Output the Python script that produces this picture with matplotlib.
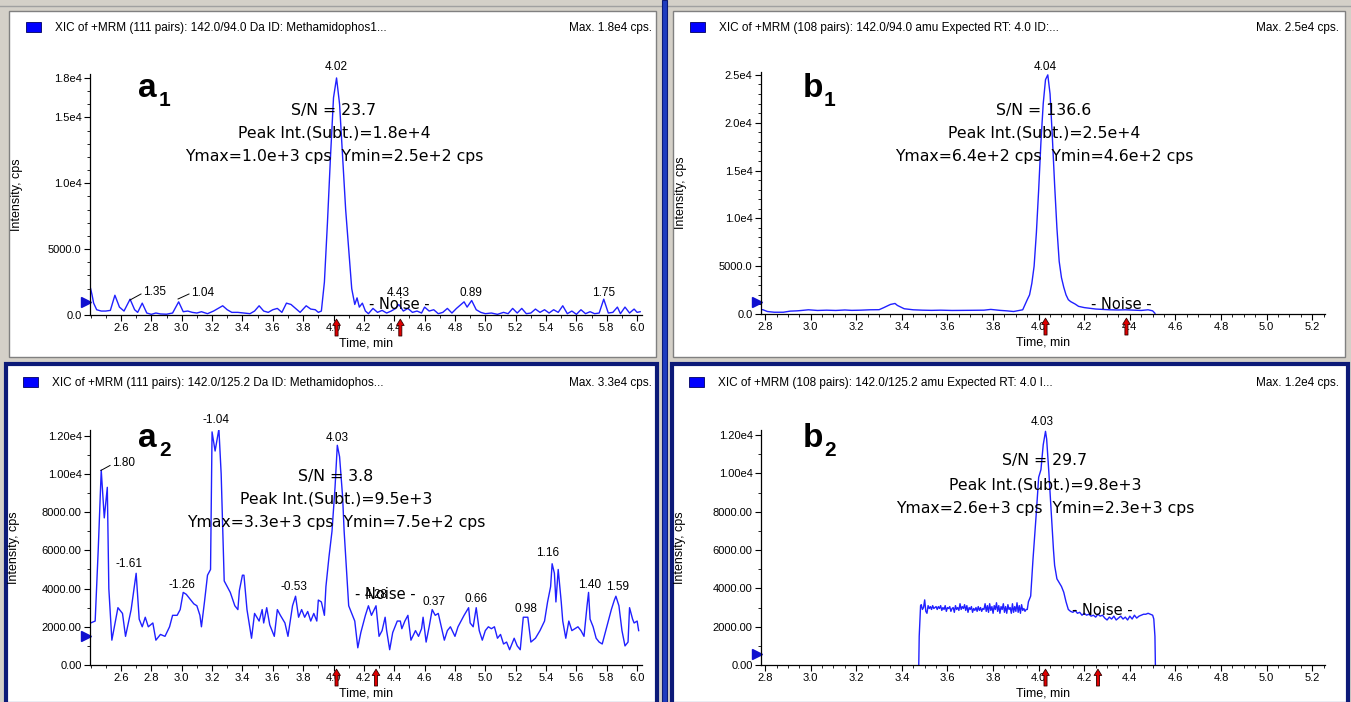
import matplotlib
matplotlib.use("Agg")
import matplotlib.pyplot as plt
from matplotlib.patches import Rectangle
from matplotlib.lines import Line2D
from matplotlib.ticker import FixedLocator, MultipleLocator
from matplotlib.transforms import blended_transform_factory

W, H = 1351, 702

# ---------------- data ----------------
a1_t = [2.40, 2.41, 2.42, 2.44, 2.47, 2.50, 2.53, 2.56, 2.59, 2.62, 2.66, 2.69, 2.71, 2.74, 2.77,
        2.80, 2.83, 2.86, 2.90, 2.94, 2.98, 3.01, 3.04, 3.07, 3.10, 3.13, 3.17, 3.21, 3.24, 3.27,
        3.30, 3.33, 3.37, 3.41, 3.45, 3.48, 3.51, 3.54, 3.57, 3.60, 3.63, 3.66, 3.69, 3.72, 3.75,
        3.78, 3.82, 3.85, 3.88, 3.90, 3.92, 3.94, 3.96, 3.98, 4.00, 4.02, 4.04, 4.06, 4.08, 4.10,
        4.12, 4.14, 4.155, 4.17, 4.19, 4.21, 4.23, 4.26, 4.29, 4.32, 4.35, 4.38, 4.41, 4.43, 4.46,
        4.49, 4.52, 4.55, 4.58, 4.60, 4.63, 4.66, 4.69, 4.72, 4.75, 4.78, 4.81, 4.84, 4.86, 4.88,
        4.91, 4.94, 4.97, 5.00, 5.04, 5.08, 5.12, 5.15, 5.18, 5.21, 5.24, 5.27, 5.30, 5.33, 5.36,
        5.39, 5.42, 5.45, 5.48, 5.51, 5.54, 5.57, 5.60, 5.63, 5.66, 5.69, 5.72, 5.75, 5.78, 5.81,
        5.84, 5.87, 5.89, 5.92, 5.95, 5.98, 6.00, 6.02]
a1_v = [2000, 1500, 900, 400, 300, 300, 350, 1500, 600, 300, 1200, 400, 200, 900, 150,
        50, 150, 80, 60, 150, 1000, 250, 300, 200, 150, 250, 100, 300, 500, 700,
        400, 200, 200, 150, 100, 300, 700, 300, 200, 400, 500, 200, 900, 800, 500,
        200, 700, 450, 400, 200, 300, 2500, 7000, 12000, 16500, 18000, 16000, 12000, 8000, 5000,
        2000, 800, 1300, 600, 900, 300, 100, 500, 200, 350, 150, 300, 500, 800, 300,
        500, 200, 300, 150, 600, 300, 400, 100, 200, 500, 150, 500, 800, 1000, 600,
        1100, 400, 200, 100, 150, 50, 200, 100, 500, 150, 500, 100, 150, 450, 200,
        400, 150, 400, 200, 700, 100, 300, 50, 400, 100, 250, 100, 150, 1200, 150,
        200, 600, 100, 600, 150, 450, 200, 250]

a2_t = [2.40, 2.43, 2.45, 2.47, 2.49, 2.51, 2.52, 2.54, 2.58, 2.61, 2.63, 2.667, 2.70, 2.72, 2.74,
        2.76, 2.78, 2.81, 2.83, 2.86, 2.89, 2.92, 2.94, 2.97, 2.99, 3.01, 3.03, 3.06, 3.08, 3.10,
        3.12, 3.13, 3.15, 3.17, 3.19, 3.20, 3.22, 3.245, 3.26, 3.28, 3.30, 3.32, 3.35, 3.37, 3.38,
        3.40, 3.41, 3.43, 3.46, 3.48, 3.51, 3.53, 3.54, 3.56, 3.58, 3.61, 3.63, 3.65, 3.68, 3.70,
        3.73, 3.75, 3.77, 3.79, 3.81, 3.83, 3.85, 3.87, 3.89, 3.90, 3.92, 3.94, 3.95, 3.97, 3.99,
        4.01, 4.025, 4.04, 4.06, 4.07, 4.09, 4.10, 4.11, 4.14, 4.16, 4.18, 4.21, 4.23, 4.25, 4.28,
        4.30, 4.32, 4.34, 4.35, 4.37, 4.39, 4.42, 4.44, 4.45, 4.47, 4.49, 4.51, 4.54, 4.56, 4.58,
        4.59, 4.61, 4.63, 4.65, 4.67, 4.69, 4.71, 4.73, 4.75, 4.77, 4.80, 4.82, 4.84, 4.86, 4.89,
        4.90, 4.92, 4.94, 4.96, 4.98, 5.00, 5.02, 5.04, 5.06, 5.08, 5.10, 5.12, 5.14, 5.16, 5.18,
        5.19, 5.21, 5.23, 5.25, 5.28, 5.30, 5.33, 5.36, 5.39, 5.41, 5.43, 5.44, 5.455, 5.465, 5.48,
        5.50, 5.51, 5.53, 5.55, 5.57, 5.59, 5.61, 5.63, 5.65, 5.67, 5.68, 5.69, 5.71, 5.73, 5.75,
        5.77, 5.80, 5.83, 5.85, 5.86, 5.88, 5.90, 5.92, 5.94, 5.95, 5.97, 5.98, 6.00, 6.01]
a2_v = [2200, 2300, 6000, 10200, 7700, 9300, 4000, 1300, 3000, 2700, 1500, 2900, 4800, 2400, 2000,
        2500, 2000, 2200, 1300, 1600, 1500, 2000, 2600, 2600, 2900, 3800, 3700, 3400, 3200, 3100,
        2600, 2000, 3300, 4700, 5000, 12200, 11200, 12350, 10000, 4400, 4100, 3800, 3100, 2900, 3900,
        4700, 4700, 2900, 1400, 2700, 2300, 2900, 2200, 3000, 2100, 1500, 2900, 2600, 2200, 1500,
        3100, 3600, 2500, 2900, 2500, 2800, 2300, 2700, 2300, 3400, 3300, 2600, 4100, 5650, 7000,
        9300, 11500, 10900, 8800, 7000, 4400, 3100, 2900, 2300, 900, 1700, 2600, 3100, 2600, 3100,
        1500, 1800, 2500, 1800, 800, 1700, 2300, 2300, 1900, 2300, 2600, 1300, 1800, 1500, 1900,
        2500, 1200, 2000, 2900, 2600, 2700, 2000, 1300, 1800, 2000, 1500, 2000, 2300, 2600, 3000,
        2200, 2000, 3000, 1800, 1300, 1800, 2000, 1900, 2000, 1400, 1600, 1100, 1200, 800, 1200,
        1400, 1000, 800, 2500, 2500, 1200, 1400, 1800, 2300, 3300, 4100, 5300, 4800, 3300, 5000,
        3300, 2300, 1400, 2300, 1800, 1900, 2000, 1800, 1500, 3100, 3800, 2400, 2000, 1400, 1200,
        1100, 2000, 2900, 3400, 3600, 3100, 1800, 1000, 1200, 3000, 2400, 2200, 2300, 1800]

b1_t = [2.785, 2.79, 2.81, 2.84, 2.88, 2.91, 2.94, 2.96, 2.99, 3.03, 3.07, 3.11, 3.15, 3.18, 3.22,
        3.26, 3.30, 3.32, 3.35, 3.37, 3.38, 3.41, 3.45, 3.49, 3.53, 3.57, 3.62, 3.67, 3.72, 3.76,
        3.79, 3.83, 3.86, 3.89, 3.93, 3.95, 3.96, 3.97, 3.98, 3.99, 4.00, 4.01, 4.02, 4.03, 4.04,
        4.05, 4.06, 4.07, 4.08, 4.09, 4.10, 4.11, 4.12, 4.13, 4.14, 4.16, 4.175, 4.20, 4.25, 4.31,
        4.35, 4.38, 4.42, 4.45, 4.48, 4.50, 4.51]
b1_v = [450, 450, 260, 185, 185, 300, 330, 370, 440, 370, 400, 370, 420, 380, 400,
        440, 450, 660, 1000, 1100, 900, 550, 440, 400, 380, 400, 370, 380, 390, 400,
        480, 380, 330, 260, 440, 1500, 2000, 3200, 5000, 8500, 13000, 18000, 22000, 24500, 25000,
        23000, 18500, 13500, 9000, 5500, 3800, 2800, 2000, 1500, 1300, 1040, 800, 670, 520, 440,
        420, 440, 400, 370, 440, 330, 70]

b2_t = [3.474, 3.476, 3.482, 3.485, 3.49, 3.495, 3.50, 3.505, 3.51, 3.515, 3.52, 3.525, 3.53, 3.535,
        3.54, 3.55, 3.555, 3.56, 3.565, 3.57, 3.575, 3.58, 3.585, 3.59, 3.595, 3.60, 3.605, 3.61,
        3.615, 3.62, 3.625, 3.63, 3.635, 3.64, 3.645, 3.65, 3.655, 3.66, 3.665, 3.67, 3.675, 3.68,
        3.685, 3.69, 3.695, 3.70, 3.705, 3.71, 3.715, 3.72, 3.725, 3.73, 3.735, 3.74, 3.745, 3.75,
        3.755, 3.76, 3.765, 3.77, 3.775, 3.78, 3.785, 3.79, 3.795, 3.80, 3.805, 3.81, 3.815, 3.82,
        3.825, 3.83, 3.835, 3.84, 3.845, 3.85, 3.855, 3.86, 3.865, 3.87, 3.875, 3.88, 3.885, 3.89,
        3.895, 3.90, 3.905, 3.91, 3.915, 3.92, 3.925, 3.93, 3.935, 3.94, 3.945, 3.95, 3.955, 3.965,
        3.975, 3.99, 4.00, 4.01, 4.02, 4.03, 4.035, 4.045, 4.055, 4.065, 4.07, 4.08, 4.09, 4.10,
        4.11, 4.12, 4.13, 4.14, 4.15, 4.16, 4.17, 4.18, 4.19, 4.20, 4.21, 4.22, 4.23, 4.24, 4.25,
        4.26, 4.27, 4.28, 4.29, 4.30, 4.31, 4.32, 4.33, 4.34, 4.35, 4.36, 4.37, 4.38, 4.39, 4.40,
        4.41, 4.42, 4.43, 4.44, 4.45, 4.46, 4.47, 4.48, 4.49, 4.50, 4.505, 4.51, 4.512]
b2_v = [0, 1500, 3100, 3150, 2900, 3000, 3400, 2800, 2700, 3100, 2950, 3050, 2900, 3100,
        2950, 3050, 2900, 3050, 2950, 3100, 2850, 3000, 2900, 3100, 2800, 3000, 2950, 3050,
        2800, 2950, 3000, 2750, 3100, 2900, 3000, 2850, 3200, 2900, 3050, 2950, 3150, 2850,
        3100, 2750, 3000, 2900, 3050, 2750, 2950, 2850, 3000, 2800, 3050, 2850, 3000, 2800,
        2950, 2900, 3200, 2800, 3100, 2750, 3200, 2850, 3050, 2700, 3100, 2900, 3250, 2800,
        3100, 2700, 3050, 2900, 3200, 2750, 3050, 2700, 3150, 2900, 3000, 2700, 3200, 2750,
        3050, 2800, 3250, 2750, 3100, 2700, 3150, 2850, 2950, 2800, 2900, 2900, 3300, 3600,
        5500, 8000, 9800, 10200, 11500, 12200, 11800, 10000, 8000, 6000, 5200, 4500, 4300, 4100,
        3800, 3300, 2900, 2800, 2750, 2850, 2700, 2750, 2600, 2700, 2600, 2650, 2550, 2600, 2500,
        2650, 2550, 2600, 2450, 2350, 2500, 2400, 2550, 2350, 2450, 2550, 2400, 2500, 2350, 2550,
        2400, 2600, 2450, 2550, 2600, 2650, 2650, 2700, 2650, 2600, 2400, 1500, 0]

# peak / annotation labels: (text, time, intensity)
a1_labels = [("4.02", 4.02, 18830), ("1.35", 2.824, 1746), ("1.04", 3.14, 1670),
             ("4.43", 4.425, 1670), ("0.89", 4.906, 1670), ("1.75", 5.782, 1670)]
a1_leaders = [((2.66, 1140), (2.732, 1595)), ((2.976, 1215), (3.048, 1595))]
a2_labels = [("1.80", 2.620, 10548), ("-1.61", 2.653, 5274), ("-1.26", 3.002, 4178),
             ("-1.04", 3.226, 12846), ("4.03", 4.023, 11906), ("-0.53", 3.740, 4073),
             ("4.28", 4.280, 3655), ("0.37", 4.662, 3290), ("0.66", 4.939, 3446),
             ("0.98", 5.268, 2924), ("1.16", 5.413, 5849), ("1.40", 5.690, 4178),
             ("1.59", 5.868, 4073)]
a2_leaders = [((2.468, 10183), (2.528, 10444))]
b1_labels = [("4.04", 4.028, 25836)]
b2_labels = [("4.03", 4.014, 12676)]

noise_pos = {"a1": (4.432, 760), "a2": (4.339, 3708), "b1": (4.361, 941), "b2": (4.278, 2869)}
arrows = {"a1": [4.02, 4.44], "a2": [4.02, 4.28], "b1": [4.03, 4.385], "b2": [4.03, 4.26]}
baseline_marks = {"a1": 1000, "a2": 1514, "b1": 1255, "b2": 574}

titles = {
    "a1": ("XIC of +MRM (111 pairs): 142.0/94.0 Da ID: Methamidophos1...", "Max. 1.8e4 cps."),
    "b1": ("XIC of +MRM (108 pairs): 142.0/94.0 amu Expected RT: 4.0 ID:...", "Max. 2.5e4 cps."),
    "a2": ("XIC of +MRM (111 pairs): 142.0/125.2 Da ID: Methamidophos...", "Max. 3.3e4 cps."),
    "b2": ("XIC of +MRM (108 pairs): 142.0/125.2 amu Expected RT: 4.0 I...", "Max. 1.2e4 cps."),
}
stats = {
    "a1": ["S/N = 23.7", "Peak Int.(Subt.)=1.8e+4", "Ymax=1.0e+3 cps  Ymin=2.5e+2 cps"],
    "b1": ["S/N = 136.6", "Peak Int.(Subt.)=2.5e+4", "Ymax=6.4e+2 cps  Ymin=4.6e+2 cps"],
    "a2": ["S/N = 3.8", "Peak Int.(Subt.)=9.5e+3", "Ymax=3.3e+3 cps  Ymin=7.5e+2 cps"],
    "b2": ["S/N = 29.7", "Peak Int.(Subt.)=9.8e+3", "Ymax=2.6e+3 cps  Ymin=2.3e+3 cps"],
}
a_xticks = [2.6, 2.8, 3.0, 3.2, 3.4, 3.6, 3.8, 4.0, 4.2, 4.4, 4.6, 4.8, 5.0, 5.2, 5.4, 5.6, 5.8, 6.0]
b_xticks = [2.8, 3.0, 3.2, 3.4, 3.6, 3.8, 4.0, 4.2, 4.4, 4.6, 4.8, 5.0, 5.2]
a1_yticks = [0, 5000, 10000, 15000, 18000]
a1_ylabels = ["0.0", "5000.0", "1.0e4", "1.5e4", "1.8e4"]
b1_yticks = [0, 5000, 10000, 15000, 20000, 25000]
b1_ylabels = ["0.0", "5000.0", "1.0e4", "1.5e4", "2.0e4", "2.5e4"]
row2_yticks = [0, 2000, 4000, 6000, 8000, 10000, 12000]
row2_ylabels = ["0.00", "2000.00", "4000.00", "6000.00", "8000.00", "1.00e4", "1.20e4"]

# ---------------- figure ----------------
BG = "#d4d0c8"
NAVY = "#0c1a78"
fig = plt.figure(figsize=(W / 100, H / 100), dpi=100, facecolor=BG)


def fx(x):
    return x / W


def fy(y):
    return 1 - y / H


def rect(x0, y0, x1, y1, z=-10, **kw):
    fig.patches.append(Rectangle((fx(x0), fy(y1)), fx(x1) - fx(x0), fy(y0) - fy(y1),
                                 transform=fig.transFigure, zorder=z, **kw))


# window panels (behind the axes)
rect(9, 11, 656, 357, facecolor="white", edgecolor="#808080", lw=1.0)
rect(673, 11, 1345, 357, facecolor="white", edgecolor="#808080", lw=1.0)
rect(6, 364, 657, 704, facecolor="white", edgecolor=NAVY, lw=3.0)
rect(672, 364, 1348, 704, facecolor="white", edgecolor=NAVY, lw=3.0)
rect(662, 0, 667, 702, facecolor="#1e3cc0", edgecolor=NAVY, lw=0.8)
fig.lines.append(Line2D([0, 1], [fy(6), fy(6)], transform=fig.transFigure, color="#a0a0a0", lw=1,
                        zorder=-10))

TICKFONT = "Liberation Sans"
STATFONT = "DejaVu Sans"

panels = {
    "a1": dict(box=(90, 74, 642, 315), xlim=(2.396, 6.032), ylim=(0, 18300), data=(a1_t, a1_v),
               xticks=a_xticks, xminor=0.1, yticks=a1_yticks, ylabels=a1_ylabels, yminor=1000,
               labels=a1_labels, leaders=a1_leaders, origin=(9, 11), sn=(334, 110), big=("a", "1", 138, 97)),
    "b1": dict(box=(761, 72, 1325, 314), xlim=(2.782, 5.256), ylim=(0, 25300), data=(b1_t, b1_v),
               xticks=b_xticks, xminor=0.05, yticks=b1_yticks, ylabels=b1_ylabels, yminor=1000,
               labels=b1_labels, leaders=[], origin=(673, 11), sn=(1044, 110), big=("b", "1", 803, 97)),
    "a2": dict(box=(90, 430, 642, 665), xlim=(2.396, 6.032), ylim=(0, 12300), data=(a2_t, a2_v),
               xticks=a_xticks, xminor=0.1, yticks=row2_yticks, ylabels=row2_ylabels, yminor=1000,
               labels=a2_labels, leaders=a2_leaders, origin=(6, 366), sn=(336, 476), big=("a", "2", 138, 447)),
    "b2": dict(box=(761, 430, 1325, 665), xlim=(2.782, 5.256), ylim=(0, 12270), data=(b2_t, b2_v),
               xticks=b_xticks, xminor=0.05, yticks=row2_yticks, ylabels=row2_ylabels, yminor=1000,
               labels=b2_labels, leaders=[], origin=(672, 366), sn=(1045, 461), big=("b", "2", 803, 447)),
}

for key, p in panels.items():
    l, t, r, b = p["box"]
    ax = fig.add_axes([fx(l), fy(b), (r - l) / W, (b - t) / H])
    ax.set_facecolor("none")
    ax.plot(p["data"][0], p["data"][1], color="#2020ff", lw=1.0)
    ax.set_xlim(*p["xlim"])
    ax.set_ylim(*p["ylim"])
    for s in ("top", "right"):
        ax.spines[s].set_visible(False)
    for s in ("left", "bottom"):
        ax.spines[s].set_linewidth(0.9)
    ax.xaxis.set_major_locator(FixedLocator(p["xticks"]))
    ax.set_xticklabels(["%.1f" % v for v in p["xticks"]])
    ax.xaxis.set_minor_locator(MultipleLocator(p["xminor"]))
    ax.yaxis.set_major_locator(FixedLocator(p["yticks"]))
    ax.set_yticklabels(p["ylabels"])
    ax.yaxis.set_minor_locator(MultipleLocator(p["yminor"]))
    ax.tick_params(which="major", length=4, width=0.8, labelsize=8, pad=2)
    ax.tick_params(which="minor", length=2, width=0.6)
    for lab in ax.get_xticklabels() + ax.get_yticklabels():
        lab.set_fontfamily(TICKFONT)
    ax.set_xlabel("Time, min", fontsize=9, family=TICKFONT, labelpad=3)
    ax.set_ylabel("Intensity, cps", fontsize=9, family=TICKFONT)
    ax.yaxis.set_label_coords(((p["origin"][0] + 14) - l) / (r - l), 0.5)

    # peak labels
    for txt, tt, vv in p["labels"]:
        ax.text(tt, vv, txt, ha="center", va="center", fontsize=8.5, family=TICKFONT, clip_on=False)
    for (p0, p1) in p["leaders"]:
        ax.plot([p0[0], p1[0]], [p0[1], p1[1]], color="black", lw=0.7, clip_on=False)

    # noise label
    nt, nv = noise_pos[key]
    ax.text(nt, nv, "- Noise -", ha="center", va="center", fontsize=10.5, family=STATFONT, clip_on=False)

    # baseline marker
    tr = blended_transform_factory(ax.transAxes, ax.transData)
    ax.plot([-0.007], [baseline_marks[key]], marker=">", ms=7, color="#1010d0", transform=tr, clip_on=False)

    # red arrows
    for at in arrows[key]:
        ax.annotate("", xy=(at, 0), xycoords=("data", "axes fraction"), xytext=(0, -21),
                    textcoords="offset pixels", annotation_clip=False,
                    arrowprops=dict(arrowstyle="simple,head_length=0.45,head_width=0.55,tail_width=0.22",
                                    fc="#e00000", ec="#300000", lw=0.6, shrinkA=0, shrinkB=3))

    # title bar
    ox, oy = p["origin"]
    rect(ox + 17, oy + 11, ox + 32, oy + 21, z=5, facecolor="#0000ff", edgecolor="#000060", lw=0.6)
    tt, mx = titles[key]
    fig.text(fx(ox + 46), fy(oy + 17), tt, fontsize=8.5, family=TICKFONT, va="center", ha="left")
    rw = 656 if key in ("a1", "a2") else 1343
    fig.text(fx(rw - 4), fy(oy + 17), mx, fontsize=8.5, family=TICKFONT, va="center", ha="right")

    # stats block
    sx, sy = p["sn"]
    for i, line in enumerate(stats[key]):
        fig.text(fx(sx), fy(sy + i * 23.5), line, fontsize=11.3, family=STATFONT, ha="center", va="center")

    # big label with subscript
    letter, sub, bx, by = p["big"]
    fig.text(fx(bx), fy(by), letter, fontsize=24, fontweight="bold", family=TICKFONT, ha="left", va="baseline")
    fig.text(fx(bx + 21), fy(by + 9), sub, fontsize=15, fontweight="bold", family=TICKFONT, ha="left", va="baseline")

fig.savefig("out.png", dpi=100, facecolor=BG)
